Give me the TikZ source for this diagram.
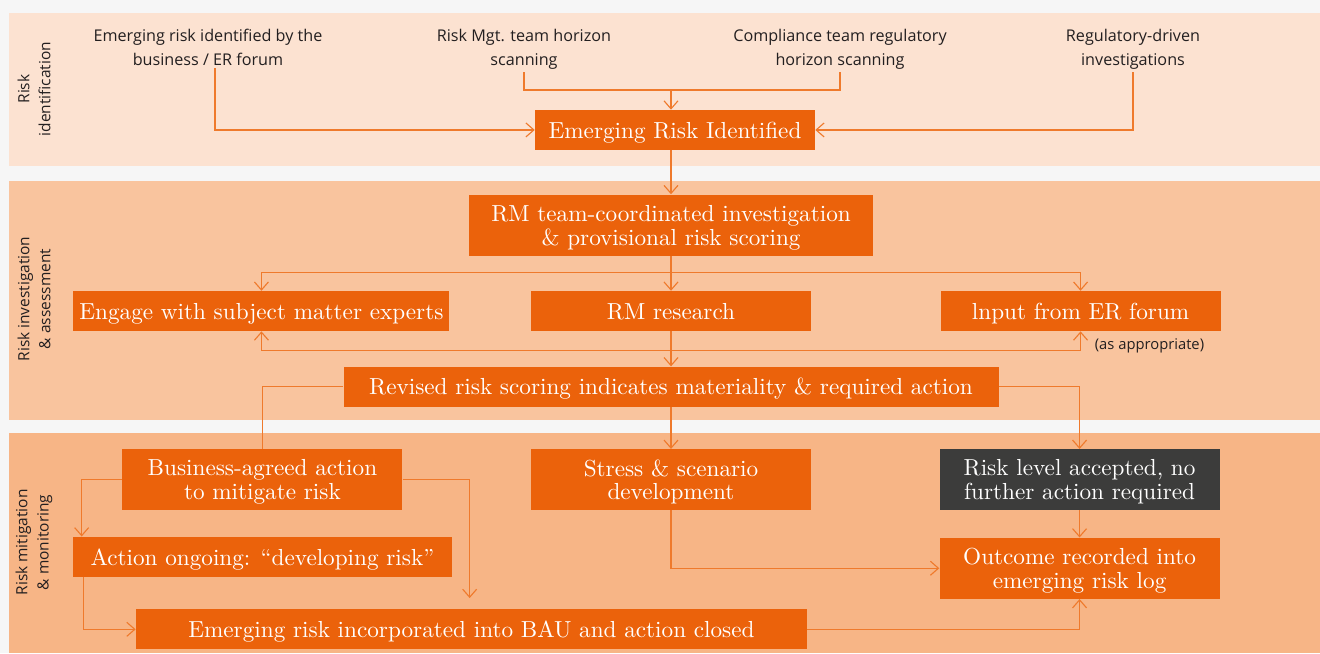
\documentclass[tikz,border=0pt]{standalone}
\usepackage{fontspec}
\newfontfamily\labelfont{Open Sans}
\newfontfamily\boxfont{lmroman10-regular.otf}
\usetikzlibrary{positioning, arrows.meta, backgrounds}

\definecolor{bggrey}{HTML}{F6F6F6}
\definecolor{bandone}{HTML}{FCE2D1}
\definecolor{bandtwo}{HTML}{F9C49E}
\definecolor{bandthree}{HTML}{F7B586}
\definecolor{boxorange}{HTML}{EB620B}
\definecolor{boxdark}{HTML}{3C3C3B}
\definecolor{lineorange}{HTML}{EF7A2C}
\definecolor{textdark}{HTML}{231F20}

\begin{document}
\begin{tikzpicture}[
    node distance=0.875cm and 2cm,
    every node/.style={align=center, inner sep=0pt},
    stepbox/.style={fill=boxorange, text=white, minimum width=7cm, minimum height=1cm, text depth=0pt, font=\boxfont\fontsize{16.5}{17}\selectfont},
    tallbox/.style={stepbox, minimum height=1.525cm},
    darkbox/.style={tallbox, fill=boxdark},
    source/.style={font=\labelfont\fontsize{11.5}{17}\selectfont, text=textdark, inner sep=1.5pt},
    bandlabel/.style={font=\labelfont\fontsize{11}{15}\selectfont, text=textdark, rotate=90},
    note/.style={font=\labelfont\fontsize{10.5}{12}\selectfont, text=textdark},
    arrow/.style={draw=lineorange, line width=0.8pt, -{Straight Barb[length=0.2cm, width=0.35cm]}},
    link/.style={draw=lineorange, line width=0.8pt}
]

% Bands
\begin{scope}[on background layer]
    \fill[bggrey] (0,0) rectangle (33,-16.325);
    \fill[bandone] (0.225,-0.325) rectangle (33,-4.15);
    \fill[bandtwo] (0.225,-4.525) rectangle (33,-10.5);
    \fill[bandthree] (0.225,-10.825) rectangle (33,-16.325);
\end{scope}

\node[bandlabel] (lblident) at (0.85,-2.225) {Risk\\identification};
\node[bandlabel] (lblassess) at (0.85,-7.475) {Risk investigation\\\& assessment};
\node[bandlabel] (lblmitig) at (0.85,-13.56) {Risk mitigation\\\& monitoring};

% Risk identification
\node[source, anchor=north] (srcbiz) at (5.2,-0.68) {Emerging risk identified by the\\business / ER forum};
\node[source, anchor=north] (srcrm) at (13.1,-0.68) {Risk Mgt. team horizon\\scanning};
\node[source, anchor=north] (srccomp) at (21.0,-0.68) {Compliance team regulatory\\horizon scanning};
\node[source, anchor=north] (srcreg) at (28.325,-0.68) {Regulatory-driven\\investigations};

% Risk investigation & assessment
\node[tallbox, minimum width=10.1cm] (rmteam) at (16.775,-5.625) {RM team-coordinated investigation\\\& provisional risk scoring};
\node[stepbox, above=1.1cm of rmteam, xshift=0.1cm] (eri) {Emerging Risk Identified};
\node[stepbox, below=0.875cm of rmteam] (research) {RM research};
\node[stepbox, minimum width=9.4cm, left=2.025cm of research] (engage) {Engage with subject matter experts};
\node[stepbox, right=3.225cm of research] (input) {lnput from ER forum};
\node[note, below right=0.175cm and 0.35cm of input.south] (asapp) {(as appropriate)};
\node[stepbox, minimum width=16.375cm, below=0.875cm of research] (revised) {Revised risk scoring indicates materiality \& required action};

% Risk mitigation & monitoring
\node[tallbox, below=1.05cm of revised] (stress) {Stress \& scenario\\development};
\node[tallbox, left=3.2cm of stress] (business) {Business-agreed action\\to mitigate risk};
\node[darkbox, right=3.2cm of stress] (accepted) {Risk level accepted, no\\further action required};
\node[tallbox, below=0.675cm of accepted] (outcome) {Outcome recorded into\\emerging risk log};
\node[stepbox, minimum width=9.475cm, below=0.65cm of business] (ongoing) {Action ongoing: “developing risk”};
\node[stepbox, minimum width=16.775cm, below right=0.8cm and 1.575cm of ongoing.south west] (bau) {Emerging risk incorporated into BAU and action closed};

% Identification flows
\draw[arrow] ([xshift=0.175cm]srcbiz.south) |- (eri.west);
\draw[arrow] (srcreg.south) |- (eri.east);
\draw[link] (srcrm.south) -- ++(0,-0.45) coordinate (scanjoin) -| (srccomp.south);
\draw[arrow] (scanjoin -| rmteam.north) -- (eri.north -| rmteam.north);
\draw[arrow] (eri.south -| rmteam.north) -- (rmteam.north);

% Investigation flows
\draw[link] (rmteam.south) -- ++(0,-0.425) coordinate (split);
\draw[arrow] (split) -| (engage.north);
\draw[arrow] (split) -| (input.north);
\draw[arrow] (split) -- (research.north);
\draw[link] (research.south) -- ++(0,-0.475) coordinate (merge);
\draw[arrow] (merge) -| (engage.south);
\draw[arrow] (merge) -| (input.south);
\draw[arrow] (research.south) -- (revised.north);

% Outcomes of revised scoring
\draw[link] (revised.west) -| (business.north);
\draw[arrow] (revised.east) -| (accepted.north);
\draw[arrow] (revised.south) -- (stress.north);

% Mitigation flows
\draw[arrow] (business.west) -| ([xshift=0.225cm]ongoing.north west);
\draw[arrow, shorten >=0.275cm] (business.east) -| ([xshift=8.35cm]bau.north west);
\draw[arrow] ([xshift=0.275cm]ongoing.south west) |- (bau.west);
\draw[arrow] (stress.south) |- (outcome.west);
\draw[arrow] (accepted.south) -- (outcome.north);
\draw[arrow] (bau.east) -| (outcome.south);

\end{tikzpicture}
\end{document}
